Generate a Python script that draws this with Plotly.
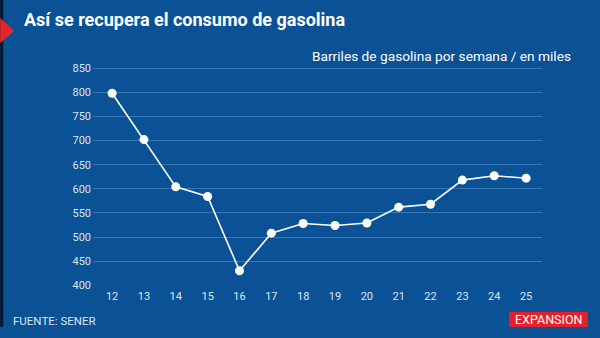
import plotly.graph_objects as go

# Semana del año y consumo semanal de gasolina (miles de barriles)
semanas = [12, 13, 14, 15, 16, 17, 18, 19, 20, 21, 22, 23, 24, 25]
barriles = [798, 702, 604, 584, 430, 508, 528, 524, 529, 562, 568, 618, 627, 622]
y_ticks = [400, 450, 500, 550, 600, 650, 700, 750, 800, 850]

BG = "#0b5196"
GRID = "#3b76b4"
TICK = "#dce6f2"

fig = go.Figure()
fig.add_trace(go.Scatter(
    x=semanas, y=barriles, mode="lines+markers",
    line=dict(color="white", width=1.6),
    marker=dict(color="white", size=9),
    hoverinfo="skip",
))

fig.update_layout(
    width=600, height=338,
    paper_bgcolor=BG, plot_bgcolor=BG,
    margin=dict(l=93, r=58, t=60, b=52),
    showlegend=False,
    font=dict(family="Roboto, Arial, sans-serif", color=TICK),
    xaxis=dict(
        range=[11.4, 25.5], tickmode="array", tickvals=semanas,
        ticktext=[str(s) for s in semanas],
        showgrid=False, zeroline=False, showline=False, ticks="",
        tickfont=dict(size=11, color=TICK), ticklabelstandoff=2,
    ),
    yaxis=dict(
        range=[398.5, 867], tickmode="array", tickvals=y_ticks,
        showgrid=True, gridcolor=GRID, gridwidth=1, zeroline=False,
        showline=False, ticks="",
        tickfont=dict(size=11, color=TICK), ticklabelstandoff=1,
    ),
    shapes=[
        # franja oscura del borde izquierdo
        dict(type="rect", xref="paper", yref="paper",
             x0=-93/450, x1=-90/450, y0=(286-327)/226, y1=1 + 60/226,
             fillcolor="#06162b", line=dict(width=0)),
        # flecha roja junto al título
        dict(type="path", xref="paper", yref="paper",
             path=f"M {-93/450} {(286-18)/226} L {-79/450} {(286-31)/226} L {-93/450} {(286-43)/226} Z",
             fillcolor="#e3262d", line=dict(width=0)),
        # recuadro del logotipo
        dict(type="rect", xref="paper", yref="paper",
             x0=(510-93)/450, x1=(589-93)/450,
             y0=(286-327)/226, y1=(286-312)/226,
             fillcolor="#e3202b", line=dict(width=0)),
    ],
    annotations=[
        dict(text="<b>Así se recupera el consumo de gasolina</b>",
             xref="paper", yref="paper", x=(22-93)/450, y=(286-19)/226,
             xanchor="left", yanchor="middle", showarrow=False,
             font=dict(family="Roboto, sans-serif", size=18, color="white")),
        dict(text="Barriles de gasolina por semana / en miles",
             xref="paper", yref="paper", x=(574-93)/450, y=(286-56)/226,
             xanchor="right", yanchor="middle", showarrow=False,
             font=dict(family="Roboto, sans-serif", size=13.7, color="white")),
        dict(text="FUENTE: SENER",
             xref="paper", yref="paper", x=(11-93)/450, y=(286-321)/226,
             xanchor="left", yanchor="middle", showarrow=False,
             font=dict(family="Roboto, sans-serif", size=11.5, color=TICK)),
        dict(text="EXPANSION",
             xref="paper", yref="paper", x=(549.5-93)/450, y=(286-319.5)/226,
             xanchor="center", yanchor="middle", showarrow=False,
             font=dict(family="Roboto, sans-serif", size=12.5, color="white")),
    ],
)

fig.write_html("out.html")
